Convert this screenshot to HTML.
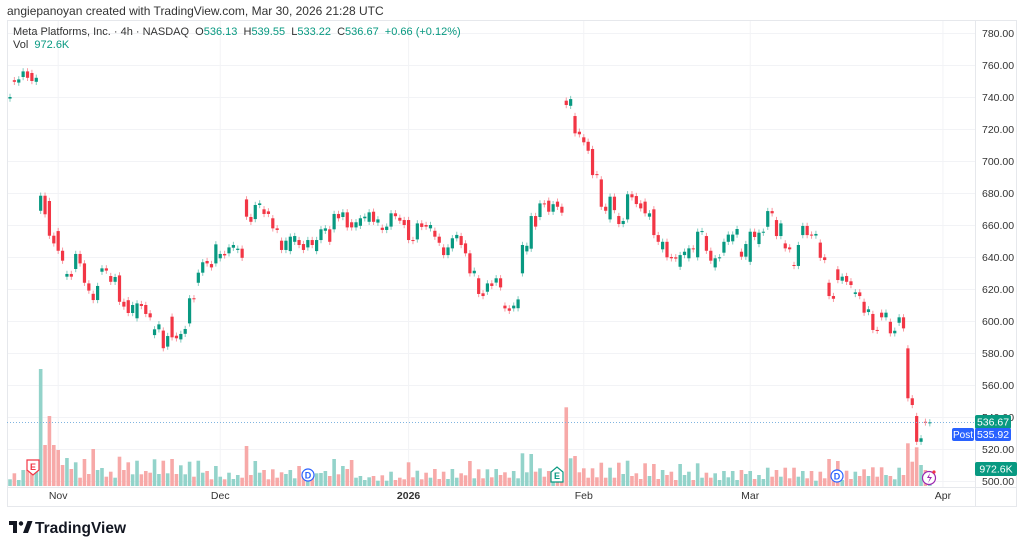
<!DOCTYPE html>
<html><head><meta charset="utf-8">
<style>
html,body{margin:0;padding:0;background:#fff;width:1024px;height:550px;overflow:hidden;font-family:"Liberation Sans",sans-serif;}
svg text{font-family:"Liberation Sans",sans-serif;}
.pre{white-space:pre;}
</style></head>
<body>
<svg id="chart" width="1024" height="550" viewBox="0 0 1024 550" xmlns="http://www.w3.org/2000/svg">
  <text x="7" y="15" font-size="12" fill="#333">angiepanoyan created with TradingView.com, Mar 30, 2026 21:28 UTC</text>
  <rect x="7.5" y="20.5" width="1009" height="486" fill="#fff" stroke="#e6e8ec"/>
  <g id="grid"></g>
  <g id="vol"></g>
  <g id="candles"></g>
  <line x1="975.5" y1="20" x2="975.5" y2="506" stroke="#e6e8ec"/>
  <line x1="7" y1="487.5" x2="1016" y2="487.5" stroke="#e6e8ec"/>
  <g id="yaxis"></g>
  <g id="xaxis"></g>
  <text class="pre" x="13" y="35" font-size="11"><tspan fill="#333">Meta Platforms, Inc. · 4h · NASDAQ  O</tspan><tspan fill="#089981">536.13  </tspan><tspan fill="#333">H</tspan><tspan fill="#089981">539.55  </tspan><tspan fill="#333">L</tspan><tspan fill="#089981">533.22  </tspan><tspan fill="#333">C</tspan><tspan fill="#089981">536.67  +0.66 (+0.12%)</tspan></text>
  <text class="pre" x="13" y="48" font-size="11"><tspan fill="#333">Vol  </tspan><tspan fill="#089981">972.6K</tspan></text>
  <g><path d="M27 460 h12 v10 l-6 5 l-6 -5 z" fill="#fff" stroke="#f23645" stroke-width="1.2"/><text x="33" y="470" font-size="9" fill="#f23645" text-anchor="middle" font-weight="bold">E</text></g>
  <g><circle cx="308" cy="475" r="6" fill="#fff" stroke="#2962ff" stroke-width="1.2"/><text x="308" y="478.5" font-size="9" fill="#2962ff" text-anchor="middle" font-weight="bold">D</text></g>
  <g><path d="M551 482 h12 v-10 l-6 -5 l-6 5 z" fill="#fff" stroke="#089981" stroke-width="1.2"/><text x="557" y="479" font-size="9" fill="#089981" text-anchor="middle" font-weight="bold">E</text></g>
  <g><circle cx="837" cy="476" r="6" fill="#fff" stroke="#2962ff" stroke-width="1.2"/><text x="837" y="479.5" font-size="9" fill="#2962ff" text-anchor="middle" font-weight="bold">D</text></g>
  <g><circle cx="929" cy="478" r="6.5" fill="#fff" stroke="#9c27b0" stroke-width="1.2"/><path d="M930 473 l-3 5 h3 l-2 5 l4 -6 h-3 z" fill="#9c27b0"/><circle cx="934" cy="472" r="1.6" fill="#f23645"/></g>
  <line x1="7" y1="422.5" x2="975" y2="422.5" stroke="#7fb4e0" stroke-dasharray="1,2"/>
  <rect x="975" y="415" width="36" height="14" rx="2" fill="#089981"/>
  <text x="993" y="425.5" font-size="10.5" fill="#fff" text-anchor="middle">536.67</text>
  <rect x="952" y="428" width="22" height="13" rx="2" fill="#2962ff"/>
  <text x="963" y="438" font-size="10" fill="#fff" text-anchor="middle">Post</text>
  <rect x="975" y="428" width="36" height="13" rx="2" fill="#2962ff"/>
  <text x="993" y="438" font-size="10.5" fill="#fff" text-anchor="middle">535.92</text>
  <rect x="975" y="462" width="42" height="14" rx="2" fill="#089981"/>
  <text x="996" y="472.5" font-size="10.5" fill="#fff" text-anchor="middle">972.6K</text>
  <g>
    <path d="M9 521 h8 v12 h-4 v-8 h-4 z" fill="#131722"/>
    <circle cx="21" cy="523.5" r="2.2" fill="#131722"/>
    <path d="M23 533 l4.5 -12 h5 l-4.5 12 z" fill="#131722"/>
    <text x="35" y="533" font-size="15.5" font-weight="bold" fill="#131722">TradingView</text>
  </g>
</svg>
<script>
const opens = [739,750.5,749,752.5,756,755,749.5,668.9,678.3,675,653.3,656.2,643.9,627.7,629.4,632.5,641.9,636,623.5,617,613.1,630.8,632.9,628.1,624.5,628.5,612,613,605,601.7,610.6,610,604.8,591.2,594.8,594,584,602.7,590.8,588.5,592,598.5,614.2,623.9,630.2,637.5,635.6,636,639.2,641.9,642.3,645.8,644.4,645.2,676,665,663.7,672.5,669.8,668.5,664.2,657.9,650.2,644.4,643.7,649.5,650.6,648.1,646,650.6,643.7,650.6,656.4,657.3,657.3,666.9,665,667.9,661.7,658.5,659.5,664.2,662,668.3,661.5,658.3,656.9,659,667.3,664.5,663.1,663.1,650.6,651,661,660,657.9,656.4,652.7,646,641.2,645.4,651.7,653.1,648.5,642.3,629.8,626.7,617.3,618.3,623.5,624,626.7,609.6,607.9,607.9,608,629.8,643.5,645.2,665.6,665,673.5,675.2,668.3,674.6,671.4,737.7,734.5,728.1,718.3,714.8,712,707.5,691.8,688.5,671.4,663.5,677.7,665.6,660.6,663.5,679.2,678.1,673.5,674.6,665.2,669.8,653.7,644.8,649.5,640,639.8,633.9,641.2,639.2,645.4,639.8,655.8,653.1,643.9,633.5,639.2,642.7,649.5,649.8,654,643.3,640.2,637,655.8,648.1,655.2,658.9,668.7,663.1,653.1,648.5,646,635,634.4,653.7,659.4,654,653.4,649,639.8,623.9,615.6,632.3,625.2,628.1,624.8,616.9,617.9,612,605.6,604.4,594.4,605.2,602.3,599.5,592.3,598.9,602.3,582.9,551.7,540.6,524.5,537,536.13];
const closes = [740,749.5,751,756,752,750,752,678.3,666.7,653.3,648.5,643.9,637.7,629.4,627.7,641.9,636,623.9,619,613.1,621.9,632.9,631.5,624.5,627.5,612,609,605,610,611,609.4,604.4,602.3,594.8,597.9,583,590.6,589.8,589.2,591.9,595,614.2,613.6,630.2,636.7,636,633.5,647.9,641.9,641,646,647.5,645.2,639.5,665.2,662,672.5,673.5,666.9,666.9,657.9,656.9,644.4,650.2,652.7,653.1,647.5,644.4,650.6,647.5,650.6,657.3,657.9,649.5,666.9,664.2,667.9,658.5,658.5,661.7,664.2,665.2,667.9,662,663.5,656.9,659,667.3,665.5,662.7,660,650.6,650,661,658.8,659,660,652.7,648.9,641.2,646,651.7,653.8,647.5,642.3,629.8,631.4,616.9,615.6,623.5,621.9,626.7,621,607.9,606.4,609.6,613.5,647.5,647,665.6,659,673.5,673,668.3,673,671.4,667.7,735,738.7,717.3,716.7,711.7,706.4,691.2,691.2,671.4,668.9,677.7,669.3,660.6,662.5,679.2,677.3,673.1,670.4,667.3,667.3,653.7,649.5,649.5,639.8,639.2,639,641.2,643.3,645.4,644.8,655.8,656.2,643.9,637.7,639.2,639.8,649.5,654,654,657.5,640.2,648.1,655.8,652.5,655.2,655.8,668.7,667.3,653.1,661,645.4,644.8,634.4,647.5,659.4,653.7,653.4,654.4,639.5,638.1,615.6,613.9,625.6,627.7,624.5,622.5,617.9,615.6,605.2,607.3,594.4,594,602.3,605.2,592.3,593.9,602.3,595.4,551.7,547.5,524.5,526.7,536.6,536.67];
const volumes = [6.7,12.7,6,16,16,22.7,16,117,41,70,41,36,21,28,17,23.7,8.3,27,12,37,16,18,9.3,14.3,8.3,29.3,16,23.7,11.7,25.3,11.7,15,13.3,26.7,12,25.3,12.7,27,12,20.7,11.7,24.3,9.3,25.3,13.3,15,6.7,20,9.3,6.7,13.3,7,11,8.3,40,11,25,13.3,16,6.7,16.7,8.3,13.7,12,16,7.7,20,14,6,12.7,12.7,13,15,10,27,11.7,20,17,26,8.3,10,6,8.7,10,5.3,10.7,5.3,14.3,6,8.3,6.7,23.7,8.7,15.3,6.7,13.3,8.3,17,7,14.3,7,17,8.3,12.7,10.7,25,7.7,16.7,7.7,16.7,8.7,17,11,13.7,8.3,15,7.7,32.7,13.7,32,14.3,17.7,9.3,15,11,7.7,6,78.7,27.7,30,13.7,17.7,8.3,17.7,8.7,23.3,8.3,18.3,8.3,23.3,12,25.3,10,12.7,7,22.7,10,22,7,16,11,14.3,6,22,11,14.3,6,22.7,8.3,13.3,8.3,12.7,6,15,8.7,15,6,16,12,15,7,11,7,18.3,9.3,16,9.3,18.3,7.7,18.3,9.3,15,7.7,15,5.3,14.3,7.7,27,14,25,6,15.3,7,14.3,10,16.7,10,18.7,9.3,18.7,11,10,6.7,18.3,11,42.7,24.3,38.7,21,16,6.7];
const priceTicks = [780,760,740,720,700,680,660,640,620,600,580,560,540,520,500];
const timeLabels = ["Nov","Dec","2026","Feb","Mar","Apr"];
const timeLabelBars = [11,48,91,131,169,213];

const NS = "http://www.w3.org/2000/svg";
function yScale(p){ return 33 + (780 - p) * 1.6; }
function xScale(i){ return 10 + 4.38 * i; }
function vScale(v){ return v * 1.0; }
function mk(tag, attrs, parent){ const e = document.createElementNS(NS, tag); for (const k in attrs) e.setAttribute(k, attrs[k]); parent.appendChild(e); return e; }

const grid = document.getElementById('grid');
const yaxis = document.getElementById('yaxis');
const xaxis = document.getElementById('xaxis');
priceTicks.forEach(function(p){
  const y = Math.round(yScale(p)) + 0.5;
  const gl = mk('line', {x1: 8, x2: 975, y1: y, y2: y, stroke: '#f2f3f6'}, grid);
  
  
  const t = mk('text', {x: 982, y: y + 3.5, 'font-size': 10.5, fill: '#333'}, yaxis);
  t.textContent = p.toFixed(2);
  
  
});
timeLabels.forEach(function(lbl, k){
  const x = xScale(timeLabelBars[k]);
  const gl = mk('line', {x1: x, x2: x, y1: 21, y2: 487, stroke: '#f2f3f6'}, grid);
  
  
  const t = mk('text', {x: x, y: 499, 'font-size': 10.5, fill: '#333', 'text-anchor': 'middle', 'font-weight': lbl === '2026' ? 'bold' : 'normal'}, xaxis);
  t.textContent = lbl;
  
  
});

const volG = document.getElementById('vol');
const cG = document.getElementById('candles');
const n = Math.min(opens.length, closes.length);
for (let i = 0; i < n; i++) {
  const up = closes[i] >= opens[i];
  const x = xScale(i);
  if (i < volumes.length) {
    const h = vScale(volumes[i]);
    const vb = mk('rect', {x: x - 1.8, y: 486 - h, width: 3.6, height: h, fill: up ? '#93d3ca' : '#f7a9a8'}, volG);
    
    
  }
  const col = up ? '#089981' : '#f23645';
  const hi = Math.max(opens[i], closes[i]) + 2;
  const lo = Math.min(opens[i], closes[i]) - 2;
  const w = mk('line', {x1: x, x2: x, y1: yScale(hi), y2: yScale(lo), stroke: col, 'stroke-opacity': 0.5, 'stroke-width': 1}, cG);
  
  
  const top = yScale(Math.max(opens[i], closes[i]));
  const bh = Math.max(1, yScale(Math.min(opens[i], closes[i])) - top);
  const b = mk('rect', {x: x - 1.6, y: top, width: 3.2, height: bh, fill: col}, cG);
  
  
}
</script>
</body></html>
